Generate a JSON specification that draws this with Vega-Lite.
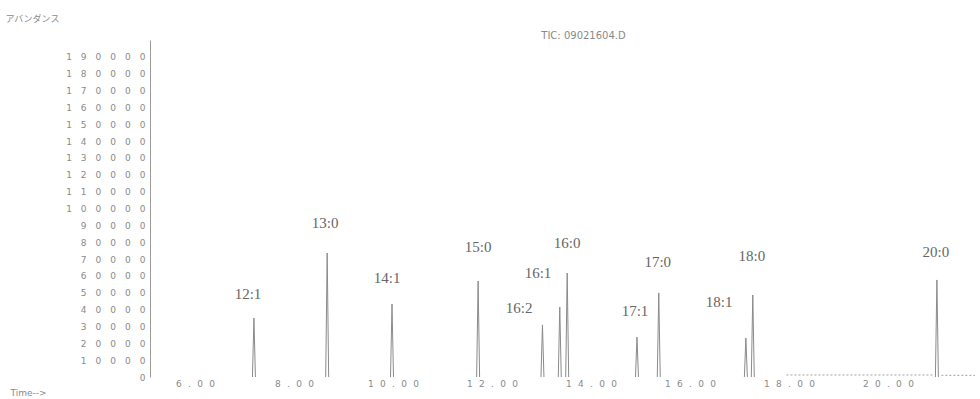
{
  "$schema": "https://vega.github.io/schema/vega-lite/v6.json",
  "width": 825,
  "height": 337,
  "autosize": {"type": "none"},
  "padding": {"left": 150, "top": 40, "right": 5, "bottom": 22},
  "background": "#ffffff",
  "title": {
    "text": "TIC: 09021604.D",
    "anchor": "middle",
    "dx": 21,
    "offset": -32,
    "baseline": "middle",
    "font": "DejaVu Sans",
    "fontSize": 10,
    "fontWeight": "normal",
    "color": "#8a8a8a"
  },
  "config": {
    "view": {"stroke": null},
    "axis": {"grid": false}
  },
  "datasets": {
    "trace": [
      {"peak": "12:1", "t": 7.16, "a": 0}, {"peak": "12:1", "t": 7.19, "a": 35000}, {"peak": "12:1", "t": 7.22, "a": 0},
      {"peak": "13:0", "t": 8.64, "a": 0}, {"peak": "13:0", "t": 8.67, "a": 73600}, {"peak": "13:0", "t": 8.70, "a": 0},
      {"peak": "14:1", "t": 9.95, "a": 0}, {"peak": "14:1", "t": 9.98, "a": 43300}, {"peak": "14:1", "t": 10.01, "a": 0},
      {"peak": "15:0", "t": 11.69, "a": 0}, {"peak": "15:0", "t": 11.72, "a": 57000}, {"peak": "15:0", "t": 11.75, "a": 0},
      {"peak": "16:2", "t": 12.99, "a": 0}, {"peak": "16:2", "t": 13.02, "a": 30900}, {"peak": "16:2", "t": 13.05, "a": 0},
      {"peak": "16:1", "t": 13.34, "a": 0}, {"peak": "16:1", "t": 13.37, "a": 41500}, {"peak": "16:1", "t": 13.40, "a": 0},
      {"peak": "16:0", "t": 13.49, "a": 0}, {"peak": "16:0", "t": 13.52, "a": 61700}, {"peak": "16:0", "t": 13.55, "a": 0},
      {"peak": "17:1", "t": 14.90, "a": 0}, {"peak": "17:1", "t": 14.93, "a": 23700}, {"peak": "17:1", "t": 14.96, "a": 0},
      {"peak": "17:0", "t": 15.34, "a": 0}, {"peak": "17:0", "t": 15.37, "a": 49900}, {"peak": "17:0", "t": 15.40, "a": 0},
      {"peak": "18:1", "t": 17.10, "a": 0}, {"peak": "18:1", "t": 17.13, "a": 23100}, {"peak": "18:1", "t": 17.16, "a": 0},
      {"peak": "18:0", "t": 17.24, "a": 0}, {"peak": "18:0", "t": 17.27, "a": 48700}, {"peak": "18:0", "t": 17.30, "a": 0},
      {"peak": "20:0", "t": 20.96, "a": 0}, {"peak": "20:0", "t": 20.99, "a": 57600}, {"peak": "20:0", "t": 21.02, "a": 0}
    ],
    "base": [
      {"seg": "b1", "t": 17.95, "a": 1200}, {"seg": "b1", "t": 20.90, "a": 1200},
      {"seg": "b2", "t": 21.08, "a": 1000}, {"seg": "b2", "t": 21.76, "a": 1000}
    ],
    "labels": [
      {"name": "12:1", "t": 7.07, "a": 49300},
      {"name": "13:0", "t": 8.63, "a": 91400},
      {"name": "14:1", "t": 9.88, "a": 58800},
      {"name": "15:0", "t": 11.72, "a": 77200},
      {"name": "16:2", "t": 12.55, "a": 41000},
      {"name": "16:1", "t": 12.93, "a": 61700},
      {"name": "16:0", "t": 13.52, "a": 79500},
      {"name": "17:1", "t": 14.89, "a": 39200},
      {"name": "17:0", "t": 15.35, "a": 68300},
      {"name": "18:1", "t": 16.59, "a": 44500},
      {"name": "18:0", "t": 17.25, "a": 71800},
      {"name": "20:0", "t": 20.97, "a": 74200}
    ]
  },
  "layer": [
    {
      "data": {"name": "trace"},
      "mark": {"type": "line", "color": "#8a8a8a", "strokeWidth": 1, "clip": true},
      "encoding": {
        "x": {
          "field": "t", "type": "quantitative",
          "scale": {"domain": [5.09, 21.76], "nice": false, "zero": false},
          "axis": {
            "values": [6, 8, 10, 12, 14, 16, 18, 20],
            "tickCount": 30,
            "format": ".2f",
            "labelExpr": "join(split(datum.label, ''), '\u2002\u2009')",
            "labelOverlap": false,
            "ticks": false,
            "domain": false,
            "labelFont": "DejaVu Sans",
            "labelFontSize": 9,
            "labelColor": "#8a8a8a",
            "labelPadding": 2,
            "title": "Time-->",
            "titleFont": "DejaVu Sans",
            "titleFontSize": 9,
            "titleFontWeight": "normal",
            "titleColor": "#8a8a8a",
            "titleAnchor": "start",
            "titleAlign": "left",
            "titleBaseline": "middle",
            "titleX": -140,
            "titleY": 15
          }
        },
        "y": {
          "field": "a", "type": "quantitative",
          "scale": {"domain": [0, 200000], "nice": false},
          "axis": {
            "values": [0, 10000, 20000, 30000, 40000, 50000, 60000, 70000, 80000, 90000, 100000, 110000, 120000, 130000, 140000, 150000, 160000, 170000, 180000, 190000],
            "tickCount": 30,
            "format": "d",
            "labelExpr": "join(split(datum.label, ''), '\u2003')",
            "labelOverlap": false,
            "ticks": false,
            "domain": true,
            "domainColor": "#9a9a9a",
            "domainWidth": 1,
            "labelFont": "DejaVu Sans",
            "labelFontSize": 9,
            "labelColor": "#8a8a8a",
            "labelPadding": 5,
            "title": "アバンダンス",
            "titleFont": "Noto Sans CJK JP",
            "titleFontSize": 9,
            "titleFontWeight": "normal",
            "titleColor": "#8a8a8a",
            "titleAngle": 0,
            "titleAlign": "left",
            "titleBaseline": "middle",
            "titleX": -145,
            "titleY": -22
          }
        },
        "detail": {"field": "peak", "type": "nominal"}
      }
    },
    {
      "data": {"name": "base"},
      "mark": {"type": "line", "color": "#a0a0a0", "strokeWidth": 1, "strokeDash": [2, 2], "clip": true},
      "encoding": {
        "x": {"field": "t", "type": "quantitative"},
        "y": {"field": "a", "type": "quantitative"},
        "detail": {"field": "seg", "type": "nominal"}
      }
    },
    {
      "data": {"name": "labels"},
      "mark": {"type": "text", "font": "Liberation Serif", "fontSize": 15, "color": "#666666", "align": "center", "baseline": "middle"},
      "encoding": {
        "x": {"field": "t", "type": "quantitative"},
        "y": {"field": "a", "type": "quantitative"},
        "text": {"field": "name", "type": "nominal"}
      }
    }
  ]
}
